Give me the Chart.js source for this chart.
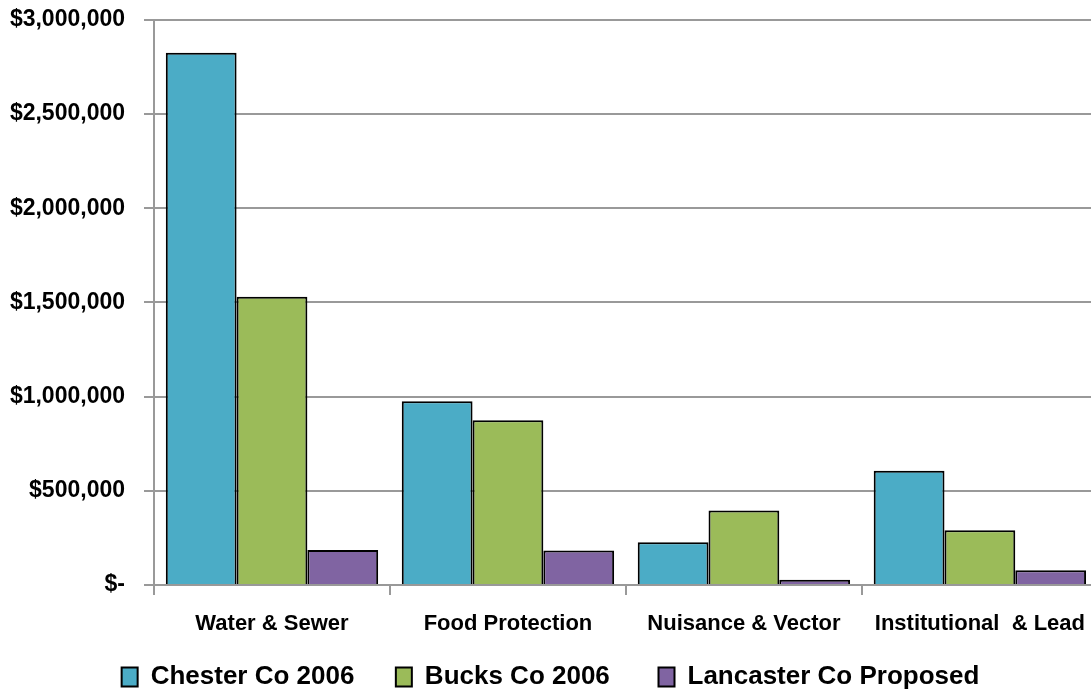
<!DOCTYPE html>
<html>
<head>
<meta charset="utf-8">
<script src="https://cdn.jsdelivr.net/npm/chart.js@4/dist/chart.umd.min.js"></script>
<style>
    html, body { margin: 0; padding: 0; background: #fff; overflow: hidden; }
    #wrap { width: 1091px; height: 691px; overflow: hidden; }
    #budget-chart { display: block; margin-top: -13px; }
</style>
</head>
<body>
<div id="wrap"><canvas id="budget-chart" width="1101" height="713"></canvas></div>
<script>
const categories = ["Water & Sewer", "Food Protection", "Nuisance & Vector", "Institutional  & Lead"];
const seriesNames = ["Chester Co 2006", "Bucks Co 2006", "Lancaster Co Proposed"];
const chester = [2825000, 975000, 227000, 606000];
const bucks = [1530000, 875000, 395000, 290000];
const lancaster = [186000, 183000, 28000, 78000];
const yTicks = [0, 500000, 1000000, 1500000, 2000000, 2500000, 3000000];

const colors = ['#4BACC6', '#9BBB59', '#8064A2'];
const font = "'Liberation Sans', Arial, sans-serif";
// extra gap after each legend entry (Excel spaces the entries unevenly)
const legendGap = ['  ', '   ', ''];

(async function () {
    const series = [chester, bucks, lancaster];
    new Chart(
        document.getElementById('budget-chart'),
        {
            type: 'bar',
            data: {
                labels: categories,
                datasets: series.map((vals, i) => ({
                    label: seriesNames[i],
                    data: vals,
                    backgroundColor: colors[i],
                    borderColor: '#000',
                    borderWidth: 2,
                    categoryPercentage: 0.9,
                    barPercentage: 1.0
                }))
            },
            options: {
                responsive: false,
                animation: false,
                layout: { padding: 0 },
                plugins: {
                    tooltip: { enabled: false },
                    legend: {
                        position: 'bottom',
                        labels: {
                            color: '#000',
                            font: { family: font, size: 26, weight: 'bold' },
                            boxWidth: 16,
                            boxHeight: 19,
                            padding: 27,
                            generateLabels: (chart) => {
                                const items = Chart.defaults.plugins.legend.labels.generateLabels(chart);
                                items.forEach((it, i) => { it.text = it.text + legendGap[i]; });
                                return items;
                            }
                        }
                    }
                },
                scales: {
                    x: {
                        grid: {
                            drawOnChartArea: false,
                            color: '#999',
                            lineWidth: 2,
                            tickLength: 10,
                            offset: true
                        },
                        border: { color: '#999', width: 2 },
                        ticks: {
                            color: '#000',
                            padding: 16,
                            maxRotation: 0,
                            font: { family: font, size: 22, weight: 'bold' }
                        },
                        afterFit: (scale) => { scale.height = 52; }
                    },
                    y: {
                        min: 0,
                        max: 3000000,
                        afterBuildTicks: (scale) => { scale.ticks = yTicks.map(v => ({ value: v })); },
                        grid: { color: '#999', lineWidth: 2, tickLength: 10 },
                        border: { color: '#999', width: 2 },
                        ticks: {
                            color: '#000',
                            padding: 19,
                            font: { family: font, size: 23, weight: 'bold' },
                            callback: (v) => v === 0 ? '$-' : '$' + v.toLocaleString('en-US')
                        },
                        afterFit: (scale) => { scale.width = 154; }
                    }
                }
            }
        }
    );
})();
</script>
</body>
</html>
